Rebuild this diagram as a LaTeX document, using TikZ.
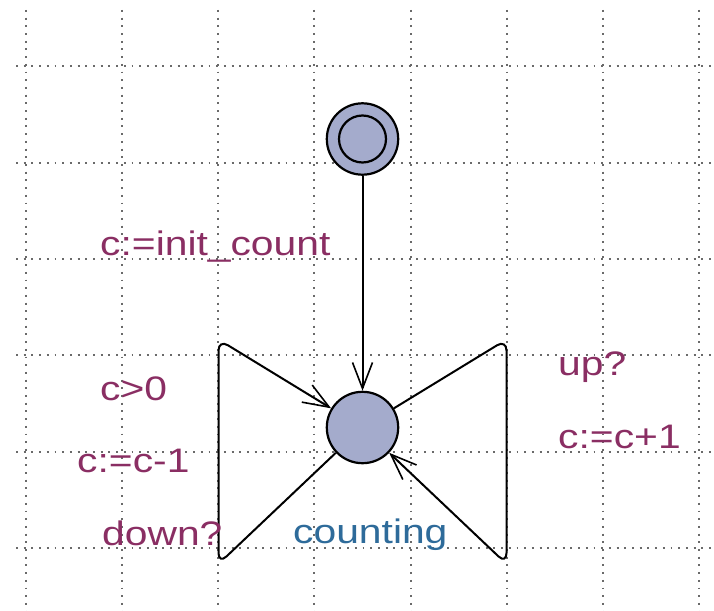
\documentclass[tikz,border=0pt]{standalone}
\usepackage{fontspec}
\newfontfamily\uppfont[FakeStretch=1.2]{Liberation Sans}
\usetikzlibrary{arrows.meta}
\definecolor{lblc}{HTML}{8A2E63}
\definecolor{namec}{HTML}{2E6B9A}
\definecolor{locfill}{HTML}{A4ABCC}
\definecolor{dotc}{HTML}{6A6A6A}
\begin{document}
\begin{tikzpicture}[x=1bp,y=-1bp,
  gridline/.style={dotc, line width=2bp, dash pattern=on 1.9bp off 5.8bp},
  loc/.style={circle, draw=black, line width=2.2bp, fill=locfill, minimum size=71.4bp, inner sep=0pt},
  edge/.style={line width=2bp, rounded corners=11bp},
  tip/.style={-{Straight Barb[length=26bp,width=20bp,line width=1.6bp]}},
  lbl/.style={text=lblc, font=\uppfont\fontsize{34bp}{40bp}\selectfont, inner sep=0pt, anchor=base west},
  lname/.style={text=namec, font=\uppfont\fontsize{34bp}{40bp}\selectfont, inner sep=0pt, anchor=base west}]
\useasboundingbox (0,0) rectangle (714,611);
\fill[white] (0,0) rectangle (714,611);
\foreach \gy in {66.5,162.8,259.1,355.4,451.7,548} \draw[gridline] (16,\gy) -- (714,\gy);
\foreach \gx in {25.8,122,218.2,314.4,410.6,506.8,603,699.2} \draw[gridline] (\gx,10) -- (\gx,611);
\node[loc] (init) at (362.5,139) {};
\draw[line width=2.2bp] (init.center) circle[radius=23.5bp];
\node[loc] (cnt) at (362.5,427.5) {};
\coordinate (lb) at (218.5,564);
\coordinate (lt) at (218.5,339.5);
\coordinate (rt) at (506.5,339.5);
\coordinate (rb) at (506.5,564);
\draw[edge,tip] (init) -- (cnt);
\draw[edge,tip] (cnt) -- (lb) -- (lt) -- (cnt);
\draw[edge,tip] (cnt) -- (rt) -- (rb) -- (cnt);
\node[lbl] (assign) at (100,255) {c:=init\_count};
\node[lbl] (sync1) at (558,375) {up?};
\node[lbl] (upd1) at (558,448) {c:=c+1};
\node[lbl] (guard2) at (100,400) {c>0};
\node[lbl] (upd2) at (77,472) {c:=c-1};
\node[lbl] (sync2) at (102,545) {down?};
\node[lname] (name) at (293,543) {counting};
\end{tikzpicture}
\end{document}
